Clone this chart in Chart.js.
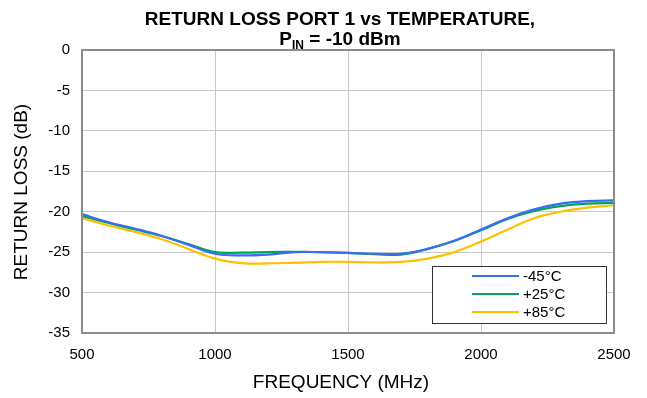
<!DOCTYPE html>
<html>
<head>
<meta charset="utf-8">
<script src="https://cdn.jsdelivr.net/npm/chart.js@4.4.1/dist/chart.umd.min.js"></script>
<style>
html,body{margin:0;padding:0;background:#fff;}
#wrap{width:647px;height:398px;position:relative;}
</style>
</head>
<body>
<div id="wrap"><canvas id="c" width="647" height="398"></canvas></div>
<script>
const frequencies = [500,600,700,800,900,1000,1100,1200,1300,1400,1500,1600,1700,1800,1900,2000,2100,2200,2300,2400,2500];
const lossM45 = [-20.3,-21.3,-22.1,-23.0,-24.1,-25.2,-25.4,-25.3,-25.0,-25.0,-25.1,-25.2,-25.2,-24.6,-23.6,-22.2,-20.8,-19.7,-19.0,-18.7,-18.6];
const lossP25 = [-20.5,-21.4,-22.2,-23.0,-24.0,-25.0,-25.05,-25.0,-24.95,-25.0,-25.1,-25.25,-25.3,-24.6,-23.6,-22.3,-20.9,-19.9,-19.3,-19.0,-18.9];
const lossP85 = [-20.8,-21.7,-22.5,-23.4,-24.6,-25.8,-26.35,-26.4,-26.3,-26.2,-26.2,-26.25,-26.2,-25.8,-25.0,-23.7,-22.2,-20.8,-20.0,-19.5,-19.2];
const seriesLabels = ['-45°C','+25°C','+85°C'];
const seriesColors = ['#3A6EF0','#00A651','#FFC000'];
const xTicks = [500,1000,1500,2000,2500];
const yTicks = [0,-5,-10,-15,-20,-25,-30,-35];
const titleLine1 = 'RETURN LOSS PORT 1 vs TEMPERATURE,';
const titleMain = 'P';
const titleSub = 'IN';
const titleRest = ' = -10 dBm';
const xTitle = 'FREQUENCY (MHz)';
const yTitle = 'RETURN LOSS (dB)';

const FONT = 'Arial, "Liberation Sans", Helvetica, sans-serif';

function toPts(arr){ return frequencies.map((f,i)=>({x:f,y:arr[i]})); }

const titlePlugin = {
  id:'titlePlugin',
  afterDraw(chart){
    const ctx = chart.ctx;
    ctx.save();
    ctx.fillStyle = '#000';
    ctx.textBaseline = 'alphabetic';
    ctx.font = 'bold 19px ' + FONT;
    const cx = 340;
    ctx.textAlign = 'center';
    ctx.fillText(titleLine1, cx, 25);
    ctx.textAlign = 'left';
    const wP = ctx.measureText(titleMain).width;
    const wR = ctx.measureText(titleRest).width;
    ctx.font = 'bold 12px ' + FONT;
    const wS = ctx.measureText(titleSub).width;
    const total = wP + wS + wR;
    let x = cx - total/2;
    ctx.font = 'bold 19px ' + FONT;
    ctx.fillText(titleMain, x, 45); x += wP;
    ctx.font = 'bold 12px ' + FONT;
    ctx.fillText(titleSub, x, 49); x += wS;
    ctx.font = 'bold 19px ' + FONT;
    ctx.fillText(titleRest, x, 45);
    // axis titles
    ctx.font = '19px ' + FONT;
    ctx.textAlign = 'center';
    ctx.textBaseline = 'middle';
    ctx.fillText(xTitle, 341, 383);
    ctx.translate(22, 192);
    ctx.rotate(-Math.PI/2);
    ctx.fillText(yTitle, 0, 0);
    ctx.restore();
  }
};

const framePlugin = {
  id:'framePlugin',
  afterDatasetsDraw(chart){
    const a = chart.chartArea, ctx = chart.ctx;
    ctx.save();
    ctx.strokeStyle = '#8c8c8c';
    ctx.lineWidth = 2;
    ctx.strokeRect(a.left, a.top, a.right - a.left, a.bottom - a.top);
    const bw = 174, bh = 57;
    const bx = a.right - 8 - bw, by = a.bottom - 10 - bh;
    ctx.fillStyle = '#fff';
    ctx.fillRect(bx, by, bw, bh);
    ctx.strokeStyle = '#333';
    ctx.lineWidth = 1;
    ctx.strokeRect(bx + 0.5, by + 0.5, bw, bh);
    ctx.font = '15px ' + FONT;
    ctx.textBaseline = 'middle';
    ctx.textAlign = 'left';
    chart.data.datasets.forEach((ds,i)=>{
      const y = by + 10 + i*18;
      ctx.strokeStyle = ds.borderColor;
      ctx.lineWidth = 2;
      ctx.beginPath();
      ctx.moveTo(bx + 40, y);
      ctx.lineTo(bx + 87, y);
      ctx.stroke();
      ctx.fillStyle = '#000';
      ctx.fillText(ds.label, bx + 91, y + 1);
    });
    ctx.restore();
  }
};

new Chart(document.getElementById('c'), {
  type:'line',
  data:{
    datasets:[
      {label:seriesLabels[0], data:toPts(lossM45), borderColor:seriesColors[0]},
      {label:seriesLabels[1], data:toPts(lossP25), borderColor:seriesColors[1]},
      {label:seriesLabels[2], data:toPts(lossP85), borderColor:seriesColors[2]}
    ].map(d=>Object.assign(d,{borderWidth:2.2,pointRadius:0,fill:false,tension:0.4}))
  },
  options:{
    responsive:false,
    animation:false,
    events:[],
    layout:{padding:{left:0,right:33,top:50,bottom:0}},
    plugins:{legend:{display:false},tooltip:{enabled:false},title:{display:false}},
    scales:{
      x:{
        type:'linear', min:500, max:2500,
        afterBuildTicks(s){ s.ticks = xTicks.map(v=>({value:v})); },
        afterFit(s){ s.height = 65; },
        grid:{color:'#c8c8c8', lineWidth:1, drawTicks:false},
        border:{display:false},
        ticks:{padding:13, color:'#000', font:{family:FONT,size:15}, maxRotation:0, callback:v=>String(v)},
        title:{display:false}
      },
      y:{
        type:'linear', min:-35, max:0,
        afterBuildTicks(s){ s.ticks = yTicks.map(v=>({value:v})); },
        afterFit(s){ s.width = 82; },
        grid:{color:'#c8c8c8', lineWidth:1, drawTicks:false},
        border:{display:false},
        ticks:{padding:12, color:'#000', font:{family:FONT,size:15}, callback:v=>String(v)},
        title:{display:false}
      }
    }
  },
  plugins:[titlePlugin, framePlugin]
});
</script>
</body>
</html>
